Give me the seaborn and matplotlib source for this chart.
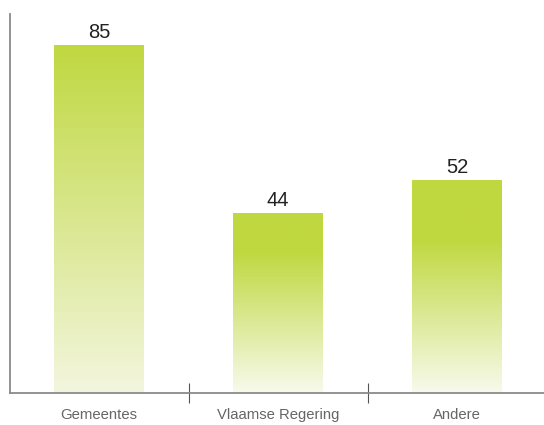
import numpy as np
import pandas as pd
import matplotlib
matplotlib.use("Agg")
import matplotlib.pyplot as plt
from matplotlib.colors import LinearSegmentedColormap
from matplotlib.ticker import FixedLocator
import seaborn as sns

categories = ["Gemeentes", "Vlaamse Regering", "Andere"]
values = [85, 44, 52]

# gradient styling per bar: share of the bar (from the top) kept solid, and base colour
solid_share = [0.0, 0.22, 0.28]
base_colours = ["#f3f6de", "#f8faec", "#f8faec"]
top_colour = "#c0d840"

sns.set_style("white")
plt.rcParams["font.family"] = ["Liberation Sans", "DejaVu Sans"]

df = pd.DataFrame({"categorie": categories, "aantal": values})

fig = plt.figure(figsize=(5.44, 4.25), dpi=100)
ax = fig.add_axes([9.5 / 544, 32 / 425, 537 / 544, 379 / 425])

sns.barplot(data=df, x="categorie", y="aantal", color=top_colour,
            width=0.5, ax=ax, saturation=1)

ax.set_xlim(-0.5, 2.5)
ax.set_ylim(0, 92.6)

grad = np.linspace(0, 1, 512).reshape(-1, 1)
for patch, solid, base in zip(ax.patches, solid_share, base_colours):
    x0, y0 = patch.get_x(), patch.get_y()
    w, h = patch.get_width(), patch.get_height()
    patch.set_facecolor("none")
    patch.set_edgecolor("none")
    cmap = LinearSegmentedColormap.from_list(
        "fade", [(0.0, base), (1.0 - solid, top_colour), (1.0, top_colour)])
    im = ax.imshow(grad, cmap=cmap, origin="lower", aspect="auto",
                   extent=[x0, x0 + w, y0, y0 + h], zorder=2,
                   interpolation="bilinear")
    im.set_clip_path(patch)
    ax.text(x0 + w / 2, y0 + h + 0.8, f"{int(round(h))}", ha="center",
            va="bottom", fontsize=14.5, color="#222222")

ax.set_aspect("auto")
ax.set_xlim(-0.5, 2.5)
ax.set_ylim(0, 92.6)

for side in ["top", "right"]:
    ax.spines[side].set_visible(False)
for side in ["left", "bottom"]:
    ax.spines[side].set_color("#8a8a8a")
    ax.spines[side].set_linewidth(1.3)

ax.set_yticks([])
ax.set_xlabel("")
ax.set_ylabel("")
ax.tick_params(axis="x", which="major", length=0, pad=10.5,
               labelsize=10.7, labelcolor="#666666")
ax.xaxis.set_minor_locator(FixedLocator([0.5, 1.5]))
ax.tick_params(axis="x", which="minor", bottom=True, direction="inout",
               length=15, width=0.8, color="#555555")

fig.savefig("out.png", dpi=100)
